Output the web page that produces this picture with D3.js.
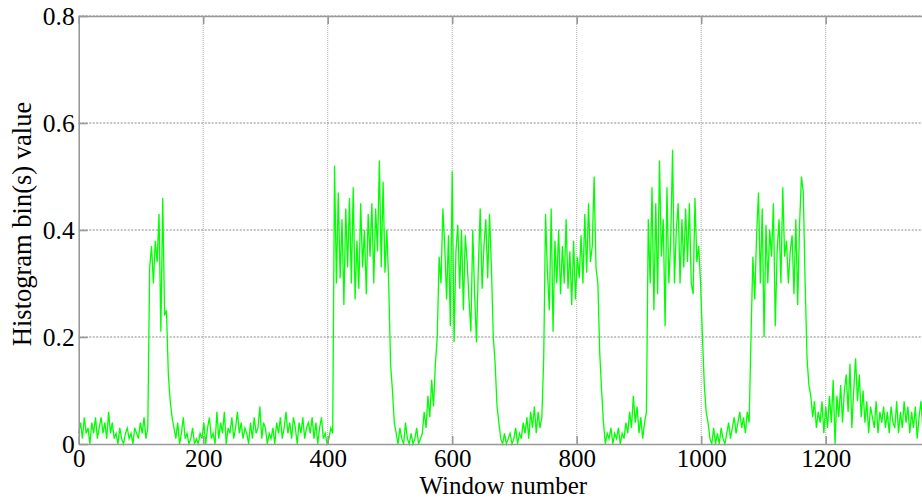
<!DOCTYPE html>
<html>
<head>
<meta charset="utf-8">
<script src="https://cdn.jsdelivr.net/npm/d3@7"></script>
<style>
  html, body { margin: 0; padding: 0; background: #fff; overflow: hidden; }
  svg { display: block; }
  .serif { font-family: "Liberation Serif", "Times New Roman", serif; }
</style>
</head>
<body>
<svg id="chart" width="922" height="500"></svg>
<script>
// ---------------- data ----------------
const windowStep = 3; // one sample read every 3 windows
const binValues = [
  // 0-111 quiet
  0.02,0.04,0.01,0.05,0.02,0.03,0.0,0.04,0.02,0.05,0.01,0.03,0.05,0.02,0.04,0.01,0.06,0.02,0.04,0.01,
  0.02,0.0,0.03,0.01,0.0,0.02,0.03,0.01,0.02,0.0,0.03,0.02,0.01,
  0.04,0.02,0.05,0.01,0.03,
  // 114-141 burst 1
  0.33,0.37,0.3,0.38,0.34,0.43,0.21,0.46,0.24,0.25,
  0.13,0.08,0.05,
  // 153-408 quiet
  0.03,0.01,0.04,0.0,0.02,0.05,0.01,0.02,0.0,0.01,0.03,0.0,0.01,
  0.0,0.02,0.01,0.04,0.0,0.03,0.05,0.01,0.02,0.0,0.06,0.01,0.04,0.02,0.06,0.0,0.03,0.02,0.05,0.01,
  0.03,0.06,0.02,0.04,0.01,0.03,0.02,0.0,0.04,0.01,0.05,0.02,0.03,0.07,0.01,0.04,0.03,0.0,0.02,
  0.01,0.03,0.0,0.04,0.02,0.05,0.01,0.03,0.06,0.02,0.04,0.01,0.05,0.03,0.0,0.04,0.02,
  0.05,0.01,0.03,0.04,0.02,0.05,0.01,0.04,0.0,0.03,0.05,0.01,0.02,0.0,0.01,0.03,0.02,
  // 411-498 burst 2
  0.52,0.3,0.47,0.31,0.42,0.26,0.44,0.33,0.46,0.3,0.48,0.27,0.38,0.29,0.45,
  0.33,0.4,0.28,0.43,0.35,0.45,0.3,0.44,0.36,0.53,0.33,0.49,0.32,0.4,0.3,
  0.15,0.1,0.04,
  // 510-576 quiet + ramp
  0.02,0.0,0.03,0.01,0.0,0.04,0.01,0.0,0.02,0.0,0.01,0.03,0.0,0.01,0.02,
  0.06,0.03,0.09,0.05,0.12,0.07,0.15,0.2,
  // 579-663 burst 3
  0.35,0.3,0.44,0.37,0.27,0.39,0.22,0.51,0.19,0.36,0.41,0.29,0.4,0.25,0.39,
  0.34,0.27,0.21,0.4,0.28,0.19,0.33,0.44,0.29,0.37,0.42,0.31,0.43,0.33,
  0.2,0.15,0.07,0.04,
  // 678-744 quiet
  0.01,0.0,0.02,0.0,0.01,0.02,0.0,0.01,0.03,0.0,0.02,0.01,0.04,0.02,0.05,0.01,0.06,0.03,0.07,0.02,0.06,0.03,0.05,
  // 747-834 burst 4
  0.16,0.43,0.32,0.25,0.44,0.21,0.38,0.3,0.4,0.28,0.37,0.3,0.42,0.29,0.36,
  0.26,0.38,0.27,0.35,0.31,0.39,0.3,0.43,0.32,0.45,0.34,0.37,0.5,0.33,0.3,
  0.17,0.1,0.04,
  // 846-912 quiet
  0.0,0.02,0.01,0.03,0.0,0.02,0.01,0.03,0.0,0.02,0.01,0.04,0.02,0.06,0.03,0.09,0.04,0.07,0.02,0.05,0.01,0.04,0.06,
  // 915-996 burst 5
  0.42,0.3,0.48,0.25,0.45,0.28,0.53,0.35,0.42,0.22,0.48,0.3,0.38,0.55,
  0.3,0.4,0.45,0.3,0.42,0.33,0.44,0.34,0.45,0.3,0.28,0.46,0.34,0.37,
  0.3,0.2,0.11,0.06,
  // 1011-1077 quiet
  0.04,0.01,0.0,0.03,0.0,0.02,0.0,0.03,0.01,0.0,0.02,0.04,0.01,0.03,0.05,0.02,0.04,0.06,0.03,0.05,0.02,0.06,0.04,
  // 1080-1164 burst 6
  0.2,0.35,0.27,0.39,0.47,0.3,0.44,0.2,0.41,0.3,0.4,0.35,0.45,0.22,0.36,
  0.42,0.3,0.48,0.35,0.38,0.3,0.36,0.39,0.28,0.42,0.26,0.41,0.5,0.47,
  0.3,0.16,0.11,0.09,
  // 1179-1359 tail
  0.05,0.08,0.03,0.06,0.04,0.08,0.02,0.07,0.03,0.09,0.04,0.12,0.0,0.09,0.05,0.11,0.04,0.1,0.13,0.06,
  0.15,0.03,0.1,0.16,0.08,0.13,0.05,0.1,0.04,0.08,0.02,0.07,0.05,0.03,0.08,0.02,0.06,0.04,0.07,0.03,
  0.06,0.02,0.07,0.04,0.03,0.08,0.02,0.06,0.03,0.08,0.04,0.07,0.02,0.06,0.03,0.07,0.01,0.05,0.08,0.03,0.06
];
const windowNumbers = binValues.map((_, i) => i * windowStep);

const xTickValues = [0, 200, 400, 600, 800, 1000, 1200];
const xTickLabels = ["0", "200", "400", "600", "800", "1000", "1200"];
const yTickValues = [0, 0.2, 0.4, 0.6, 0.8];
const yTickLabels = ["0", "0.2", "0.4", "0.6", "0.8"];
const xTitle = "Window number";
const yTitle = "Histogram bin(s) value";

// ---------------- layout ----------------
const svg = d3.select("#chart");
const mLeft = 78.7, mTop = 16, mBottom = 444, mRight = 927.8;
const x = d3.scaleLinear().domain([0, 1364]).range([mLeft, mRight]);
const y = d3.scaleLinear().domain([0, 0.8]).range([mBottom, mTop]);

// grid
svg.append("g").selectAll("line").data(xTickValues.slice(1)).join("line")
  .attr("x1", d => x(d)).attr("x2", d => x(d))
  .attr("y1", mTop).attr("y2", mBottom)
  .attr("stroke", "#aaa").attr("stroke-width", 1).attr("stroke-dasharray", "1,1");
svg.append("g").selectAll("line").data(yTickValues.slice(1)).join("line")
  .attr("x1", mLeft).attr("x2", 922)
  .attr("y1", d => y(d)).attr("y2", d => y(d))
  .attr("stroke", "#888").attr("stroke-width", 1).attr("stroke-dasharray", "2,1.5");

// data line
const line = d3.line().x((d, i) => x(windowNumbers[i])).y(d => y(d));
svg.append("path").datum(binValues)
  .attr("d", line)
  .attr("fill", "none")
  .attr("stroke", "#00ff00")
  .attr("stroke-width", 1.3)
  .attr("stroke-linejoin", "miter");

// axes
const xAxisBottom = d3.axisBottom(x).tickValues(xTickValues).tickSizeInner(-8).tickSizeOuter(0)
  .tickFormat((d, i) => xTickLabels[i]);
const gx = svg.append("g").attr("transform", `translate(0,${mBottom})`).call(xAxisBottom);
const xAxisTop = d3.axisTop(x).tickValues(xTickValues).tickSizeInner(-8).tickSizeOuter(0).tickFormat("");
const gxt = svg.append("g").attr("transform", `translate(0,${mTop})`).call(xAxisTop);
const yAxis = d3.axisLeft(y).tickValues(yTickValues).tickSizeInner(-9).tickSizeOuter(0)
  .tickFormat((d, i) => yTickLabels[i]).tickPadding(4);
const gy = svg.append("g").attr("transform", `translate(${mLeft},0)`).call(yAxis);

[gx, gxt, gy].forEach(g => {
  g.attr("font-family", null).attr("font-size", null).attr("class", "serif");
  g.select(".domain").attr("stroke", "#999").attr("stroke-width", 1.6);
  g.selectAll(".tick line").attr("stroke", "#999").attr("stroke-width", 1.6);
  g.selectAll(".tick text").attr("fill", "#000").attr("font-size", 25.5);
});
gx.selectAll(".tick text").attr("font-size", 25).attr("y", 22.5).attr("dy", 0);
gy.selectAll(".tick text").attr("dy", "0.34em");

// titles
svg.append("text").attr("class", "serif").attr("x", (mLeft + mRight) / 2).attr("y", 494.4)
  .attr("text-anchor", "middle").attr("font-size", 25)
  .attr("fill", "#000").text(xTitle);
svg.append("text").attr("class", "serif").attr("transform", `translate(31,224) rotate(-90)`)
  .attr("text-anchor", "middle").attr("font-size", 26.5)
  .attr("fill", "#000").text(yTitle);
</script>
</body>
</html>
